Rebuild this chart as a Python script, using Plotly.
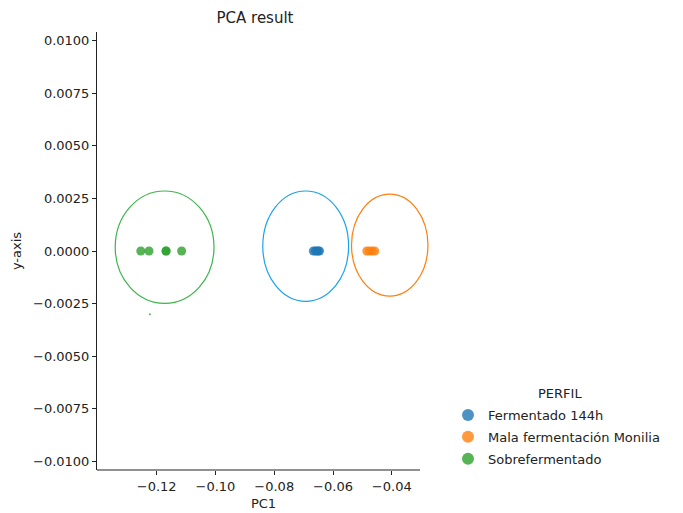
import plotly.graph_objects as go

# ---- data ----
groups = ["Fermentado 144h", "Mala fermentación Monilia", "Sobrefermentado"]
pc1_fermentado = [-0.0667, -0.0660, -0.0655, -0.0650, -0.0646]
pc1_mala = [-0.0485, -0.0476, -0.0467, -0.0458]
pc1_sobre = [-0.1254, -0.1226, -0.1168, -0.1168, -0.1115]
y_fermentado = [0, 0, 0, 0, 0]
y_mala = [0, 0, 0, 0]
y_sobre = [0, 0, 0, 0, 0]
stray_x = [-0.1223]
stray_y = [-0.0030]

# confidence ellipses: center x, center y, radius x, radius y
ell_cx = [-0.0693, -0.0407, -0.1173]
ell_cy = [0.00023, 0.00028, 0.00018]
ell_rx = [0.0146, 0.0130, 0.0168]
ell_ry = [0.00262, 0.00242, 0.00267]

x_ticks = [-0.12, -0.10, -0.08, -0.06, -0.04]
y_ticks = [-0.0100, -0.0075, -0.0050, -0.0025, 0.0, 0.0025, 0.0050, 0.0075, 0.0100]
x_range = [-0.1403, -0.0270]
x_spine_end = -0.0304
y_range = [-0.0104, 0.0104]

point_colors = ["#1f77b4", "#ff7f0e", "#2ca02c"]
ellipse_colors = ["#1aa3ec", "#ff7f0e", "#3cb44b"]

fig = go.Figure()
for i, (name, xs, ys, c) in enumerate(zip(groups, [pc1_fermentado, pc1_mala, pc1_sobre],
                                          [y_fermentado, y_mala, y_sobre], point_colors)):
    fig.add_trace(go.Scatter(x=xs, y=ys, mode="markers", name=name, legendgroup=f"g{i}",
                             marker=dict(size=9, color=c, opacity=0.8, line=dict(width=0))))
fig.add_trace(go.Scatter(x=stray_x, y=stray_y, mode="markers", showlegend=False,
                         marker=dict(size=2, color="#2ca02c", opacity=0.8), hoverinfo="skip"))

for cx, cy, rx, ry, c in zip(ell_cx, ell_cy, ell_rx, ell_ry, ellipse_colors):
    fig.add_shape(type="circle", xref="x", yref="y",
                  x0=cx - rx, x1=cx + rx, y0=cy - ry, y1=cy + ry,
                  line=dict(color=c, width=1.2))

# bottom spine (shorter than the plotting range, ellipse overflows as in original)
fig.add_shape(type="line", xref="x", yref="paper", x0=x_range[0], x1=x_spine_end,
              y0=0, y1=0, line=dict(color="#222", width=1))

font = dict(family="DejaVu Sans", size=13, color="#222")
fig.add_annotation(text="PERFIL", xref="paper", yref="paper", showarrow=False,
                   x=(560 - 97) / 333, y=1 - (393 - 32) / 438, xanchor="center", yanchor="middle",
                   font=font)
fig.update_layout(
    width=683, height=513,
    margin=dict(l=97, r=253, t=32, b=43),
    plot_bgcolor="white", paper_bgcolor="white",
    font=font,
    title=dict(text="PCA result", x=255 / 683, xanchor="center", xref="container",
               y=1 - 18 / 513, yanchor="middle", font=dict(family="DejaVu Sans", size=15, color="#222")),
    xaxis=dict(range=x_range, tickvals=x_ticks, tickformat=".2f", showgrid=False, zeroline=False,
               showline=False, ticks="outside", ticklen=4, tickcolor="#222", ticklabelstandoff=0,
               automargin=False,
               title=dict(text="PC1", standoff=6, font=font)),
    yaxis=dict(range=y_range, tickvals=y_ticks, tickformat=".4f", showgrid=False, zeroline=False,
               showline=True, linecolor="#222", linewidth=1, ticks="outside", ticklen=4, tickcolor="#222",
               automargin=False,
               title=dict(text="y-axis", standoff=8, font=font)),
    legend=dict(xref="container", yref="container", x=448 / 683, y=1 - 400 / 513,
                xanchor="left", yanchor="top",
                font=font, itemsizing="constant", tracegroupgap=2, bgcolor="rgba(0,0,0,0)"),
)

fig.write_html("out.html")
